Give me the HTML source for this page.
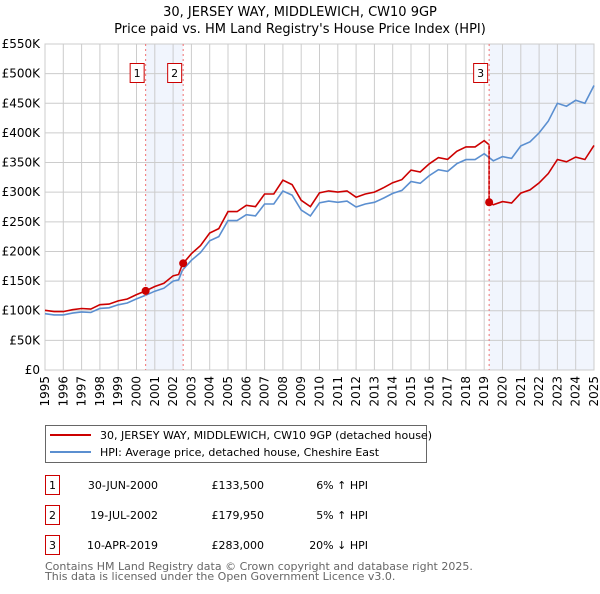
<!DOCTYPE html>
<html><head><meta charset="utf-8"><style>
body{margin:0;background:#fff;font-family:"DejaVu Sans","Liberation Sans",sans-serif;}
svg text{font-family:"DejaVu Sans","Liberation Sans",sans-serif;}
</style></head><body>
<svg id="chart" width="600" height="590" viewBox="0 0 600 590" xmlns="http://www.w3.org/2000/svg">
<text x="300" y="16" text-anchor="middle" font-size="13">30, JERSEY WAY, MIDDLEWICH, CW10 9GP</text>
<text x="300" y="33" text-anchor="middle" font-size="13">Price paid vs. HM Land Registry's House Price Index (HPI)</text>
<g id="shade"></g><g id="grid"></g><g id="axes"></g><g id="series"></g><g id="marks"></g>
<rect x="45.5" y="425.5" width="381" height="37" fill="#fff" stroke="#666"/>
<line x1="50" y1="435" x2="91" y2="435" stroke="#cc0000" stroke-width="2"/>
<text x="100" y="439" font-size="11">30, JERSEY WAY, MIDDLEWICH, CW10 9GP (detached house)</text>
<line x1="50" y1="452" x2="91" y2="452" stroke="#5b8fd0" stroke-width="2"/>
<text x="100" y="456" font-size="11">HPI: Average price, detached house, Cheshire East</text>
<g id="table" font-size="11"></g>
<text x="45" y="570" font-size="11" fill="#666">Contains HM Land Registry data © Crown copyright and database right 2025.</text>
<text x="45" y="580" font-size="11" fill="#666">This data is licensed under the Open Government Licence v3.0.</text>
</svg>
<script>
const hpiYears=[1995,1995.5,1996,1996.5,1997,1997.5,1998,1998.5,1999,1999.5,2000,2000.5,2001,2001.5,2002,2002.3,2002.5,2003,2003.5,2004,2004.5,2005,2005.5,2006,2006.5,2007,2007.5,2008,2008.5,2009,2009.5,2010,2010.5,2011,2011.5,2012,2012.5,2013,2013.5,2014,2014.5,2015,2015.5,2016,2016.5,2017,2017.5,2018,2018.5,2019,2019.5,2020,2020.5,2021,2021.5,2022,2022.5,2023,2023.5,2024,2024.5,2025];
const hpiValues=[95,93,93,96,98,97,104,105,110,113,120,126,133,138,150,152,168,185,198,218,225,252,252,262,260,280,280,302,295,270,260,282,285,283,285,275,280,283,290,298,303,318,315,328,338,335,348,355,355,365,353,360,357,378,385,400,420,450,445,455,450,480];
const saleDates=[2000.5,2002.55,2019.27];
const salePrices=[133.5,179.95,283];
const saleLabels=["1","2","3"];
const saleDateText=["30-JUN-2000","19-JUL-2002","10-APR-2019"];
const salePriceText=["£133,500","£179,950","£283,000"];
const saleDiffText=["6% ↑ HPI","5% ↑ HPI","20% ↓ HPI"];
const yTicks=[0,50,100,150,200,250,300,350,400,450,500,550];
const yTickLabels=["£0","£50K","£100K","£150K","£200K","£250K","£300K","£350K","£400K","£450K","£500K","£550K"];
const xTicks=[1995,1996,1997,1998,1999,2000,2001,2002,2003,2004,2005,2006,2007,2008,2009,2010,2011,2012,2013,2014,2015,2016,2017,2018,2019,2020,2021,2022,2023,2024,2025];

const X0=45,X1=594,Y0=370,Y1=44;
const xs=t=>X0+(t-1995)/30*(X1-X0);
const ys=v=>Y0-v/550*(Y0-Y1);
const NS="http://www.w3.org/2000/svg";
function mk(tag,attrs,parent,text){const e=document.createElementNS(NS,tag);for(const k in attrs)e.setAttribute(k,attrs[k]);if(text!==undefined)e.textContent=text;document.getElementById(parent).appendChild(e);return e;}
function hpiAt(t){for(let i=0;i<hpiYears.length-1;i++){if(t<=hpiYears[i+1]){const f=(t-hpiYears[i])/(hpiYears[i+1]-hpiYears[i]);return hpiValues[i]+f*(hpiValues[i+1]-hpiValues[i]);}}return hpiValues[hpiValues.length-1];}

let s=mk('rect',{x:xs(saleDates[0]),y:Y1,width:xs(saleDates[1])-xs(saleDates[0]),height:Y0-Y1,fill:'#eef3fc',opacity:0.8},'shade');


s=mk('rect',{x:xs(saleDates[2]),y:Y1,width:X1-xs(saleDates[2]),height:Y0-Y1,fill:'#eef3fc',opacity:0.8},'shade');



yTicks.forEach((v,i)=>{
 let l=mk('line',{x1:X0,x2:X1,y1:ys(v),y2:ys(v),stroke:'#ccc'},'grid');
 
 
 let t=mk('text',{x:X0-5,y:ys(v)+4,'text-anchor':'end','font-size':12},'axes',yTickLabels[i]);
 
 
});
xTicks.forEach(y=>{
 let l=mk('line',{x1:xs(y),x2:xs(y),y1:Y1,y2:Y0,stroke:'#ccc'},'grid');
 
 
 let t=mk('text',{x:0,y:0,'text-anchor':'end','font-size':12,transform:`translate(${xs(y)+4},${Y0+6}) rotate(-90)`},'axes',String(y));
 
 
});

let hp=hpiYears.map((t,i)=>`${xs(t).toFixed(1)},${ys(hpiValues[i]).toFixed(1)}`).join(' ');
let hl=mk('polyline',{points:hp,fill:'none',stroke:'#5b8fd0','stroke-width':1.6},'series');



function saleIdx(t){let k=0;for(let i=0;i<saleDates.length;i++)if(t>=saleDates[i])k=i;return k;}
let pts=[];
const tt=hpiYears.concat(saleDates).sort((a,b)=>a-b);
tt.forEach(t=>{
 if(saleDates.includes(t)&&t>saleDates[0]){const k=saleDates.indexOf(t);pts.push([t,salePrices[k-1]*hpiAt(t)/hpiAt(saleDates[k-1])]);}
 const k=saleIdx(t);pts.push([t,salePrices[k]*hpiAt(t)/hpiAt(saleDates[k])]);
});
let rl=mk('polyline',{points:pts.map(p=>`${xs(p[0]).toFixed(1)},${ys(p[1]).toFixed(1)}`).join(' '),fill:'none',stroke:'#cc0000','stroke-width':1.6},'series');



saleDates.forEach((d,i)=>{
 let v=mk('line',{x1:xs(d),x2:xs(d),y1:Y1,y2:Y0,stroke:'#f07070','stroke-dasharray':'2,3'},'marks');
 
 
 let c=mk('circle',{cx:xs(d),cy:ys(salePrices[i]),r:4,fill:'#cc0000'},'marks');
 
 
 let b=mk('rect',{x:xs(d)-15.5,y:63.5,width:14,height:19,fill:'#fff',stroke:'#cc0000'},'marks');
 
 
 let bt=mk('text',{x:xs(d)-8.5,y:77,'text-anchor':'middle','font-size':11},'marks',saleLabels[i]);
 
 
 const ry=475+i*30;
 let tb=mk('rect',{x:45.5,y:ry+0.5,width:14,height:19,fill:'#fff',stroke:'#cc0000'},'table');
 
 
 let t1=mk('text',{x:52.5,y:ry+14,'text-anchor':'middle'},'table',saleLabels[i]);
 
 
 let t2=mk('text',{x:158,y:ry+14,'text-anchor':'end'},'table',saleDateText[i]);
 
 
 let t3=mk('text',{x:264,y:ry+14,'text-anchor':'end'},'table',salePriceText[i]);
 
 
 let t4=mk('text',{x:368,y:ry+14,'text-anchor':'end'},'table',saleDiffText[i]);
 
 
});
let fr=mk('rect',{x:X0,y:Y1,width:X1-X0,height:Y0-Y1,fill:'none',stroke:'#ccc'},'axes');


</script>
</body></html>
